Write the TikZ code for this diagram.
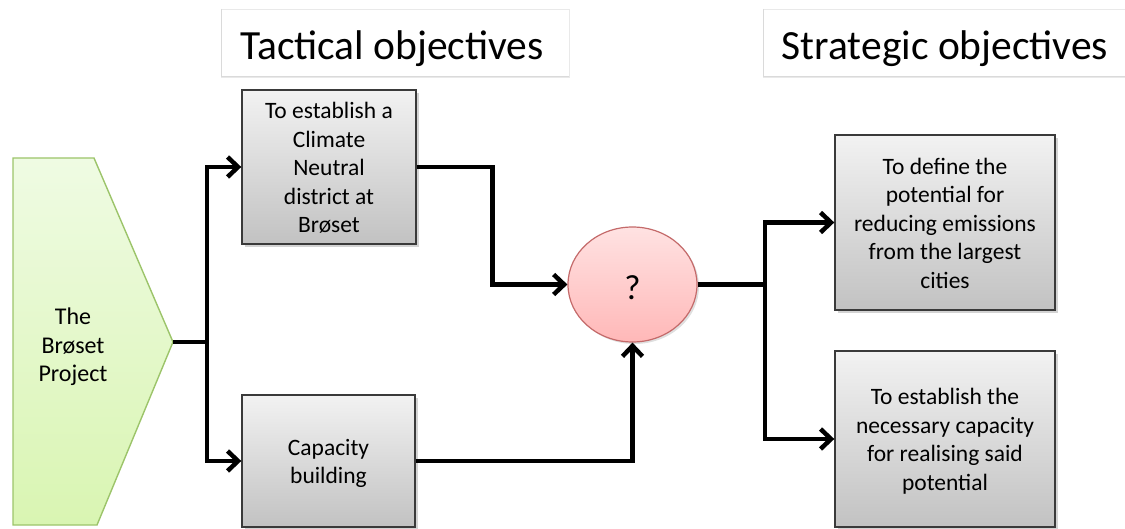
\documentclass[tikz,border=0pt]{standalone}
\usepackage{fontspec}
\setmainfont{Carlito}
\usetikzlibrary{arrows.meta,shapes.geometric,shadows}

\definecolor{boxline}{HTML}{3A3A3A}
\definecolor{boxtop}{HTML}{F2F2F2}
\definecolor{boxbot}{HTML}{C2C2C2}
\definecolor{greenline}{HTML}{9CC46A}
\definecolor{greentop}{HTML}{EFFBE3}
\definecolor{greenbot}{HTML}{D9F5B2}
\definecolor{pinkline}{HTML}{C46A6A}
\definecolor{pinktop}{HTML}{FFE2E2}
\definecolor{pinkbot}{HTML}{FFB8B8}
\definecolor{headline}{HTML}{DADADA}

% centred lines, set a little below the middle of their box
\newcommand{\objtext}[1]{\raisebox{-3pt}[\height][\depth]{\begin{tabular}{@{}c@{}}#1\end{tabular}}}

\tikzset{
  objbox/.style={draw=boxline, line width=1.4pt, top color=boxtop, bottom color=boxbot,
    inner sep=0pt,
    font=\fontsize{23.5}{28.5}\selectfont,
    drop shadow={opacity=0.35, shadow xshift=2.5pt, shadow yshift=-3pt}},
  qnode/.style={ellipse, draw=pinkline, line width=1.2pt, top color=pinktop, bottom color=pinkbot,
    inner sep=0pt, minimum width=129pt, minimum height=115pt,
    font=\fontsize{35}{40}\selectfont},
  heading/.style={anchor=base, font=\fontsize{41.5}{48}\selectfont},
  conn/.style={line width=4.8pt, draw=black, line join=miter},
  arr/.style={conn, -{Straight Barb[length=10.5pt,width=20pt,line width=4.5pt]}},
}

\begin{document}
\begin{tikzpicture}[x=1pt, y=-1pt]
\useasboundingbox (0,0) rectangle (1125,529);

% heading panels
\draw[headline!60, line width=0.8pt] (221,9) rectangle (569,77);
\draw[headline, line width=1pt] (221,9) -- (221,77) -- (569,77);
\draw[headline!60, line width=0.8pt] (763,9) rectangle (1126,77);
\draw[headline, line width=1pt] (763,9) -- (763,77) -- (1126,77);
\node[heading] (tachead) at (392,60) {Tactical objectives};
\node[heading] (strhead) at (945,60) {Strategic objectives};

% project arrow shape
\draw[draw=greenline, line width=1.4pt, top color=greentop, bottom color=greenbot]
  (13,158) -- (94,158) -- (173,342) -- (97,525) -- (13,525) -- cycle;
\coordinate (tip) at (173,342);
\node[align=center, font=\fontsize{24}{28.5}\selectfont] (proj) at (73,347)
  {The\\Brøset\\Project};

% objective boxes
\node[objbox, minimum width=174pt, minimum height=154pt] (tac1) at (329,167)
  {\objtext{To establish a\\Climate\\Neutral\\district at\\Brøset}};
\node[objbox, minimum width=173pt, minimum height=132pt] (tac2) at (328.5,461)
  {\objtext{Capacity\\building}};
\node[objbox, minimum width=220pt, minimum height=175pt] (str1) at (945,222.5)
  {\objtext{To define the\\potential for\\reducing emissions\\from the largest\\cities}};
\node[objbox, minimum width=220pt, minimum height=176pt] (str2) at (945,439)
  {\objtext{To establish the\\necessary capacity\\for realising said\\potential}};

% the open question
\node[qnode, drop shadow={opacity=0.25, shadow xshift=2pt, shadow yshift=-2pt}] (q) at (632.5,284.5)
  {\raisebox{-3pt}[\height][\depth]{?}};

% junctions
\coordinate (j1) at (207,342);
\coordinate (j2) at (765,284.5);

% connectors
\draw[conn] (tip) -- (j1);
\draw[arr] (j1) |- (tac1.west);
\draw[arr] (j1) |- (tac2.west);
\draw[arr] (tac1.east) -- ++(76,0) |- (q.west);
\draw[arr] (tac2.east) -| (q.south);
\draw[conn] (q.east) -- (j2);
\draw[arr] (j2) |- (str1.west);
\draw[arr] (j2) |- (str2.west);
\end{tikzpicture}
\end{document}
